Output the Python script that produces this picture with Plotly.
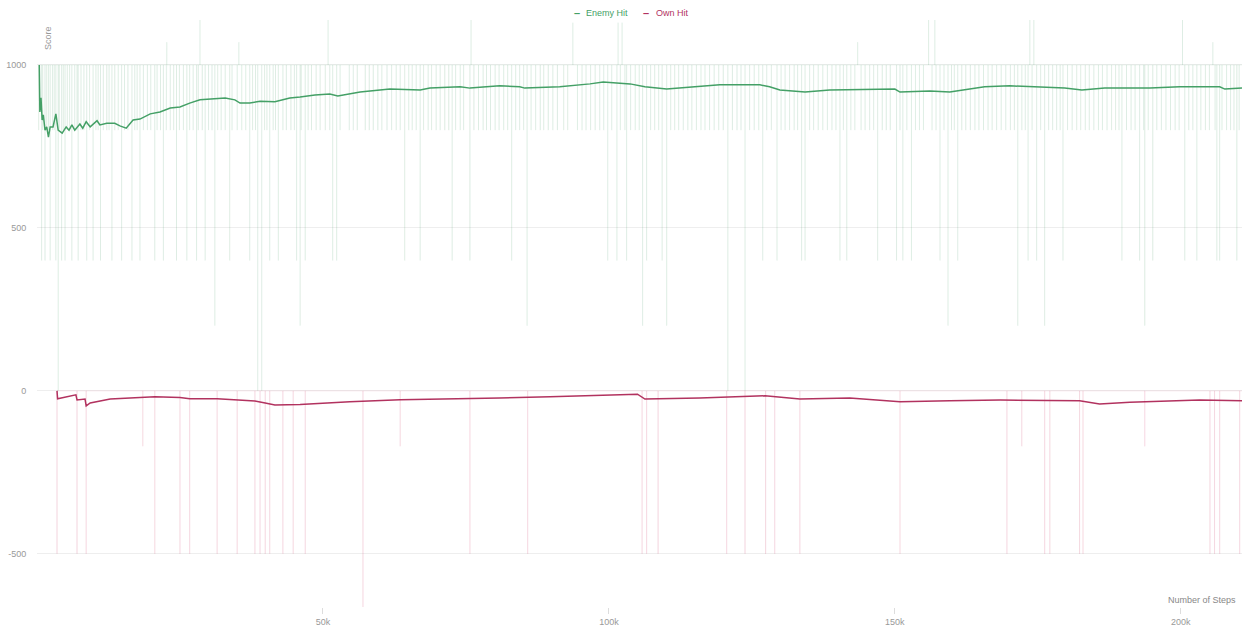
import plotly.graph_objects as go

# ---------------- data (steps in thousands) ----------------
# smoothed Enemy Hit score
enemy_smooth_steps = [0.4, 0.5, 0.7, 0.9, 1.1, 1.4, 1.7, 2.0, 2.3, 2.8, 3.3, 3.7, 4.4, 5.1, 5.6, 6.1, 6.6,
                      7.5, 8.0, 8.6, 9.3, 10.5, 11.0, 12.2, 13.6, 14.5, 15.6, 16.8, 18.0, 19.8, 21.5, 23.3,
                      25.0, 26.7, 28.5, 31.1, 32.9, 34.6, 35.5, 37.2, 39.0, 41.6, 44.2, 46.0, 48.6, 51.2,
                      52.6, 56.5, 61.7, 67.0, 68.7, 74.0, 75.7, 80.9, 84.4, 85.3, 91.4, 96.7, 99.0, 103.7,
                      106.3, 110.1, 115.9, 119.4, 126.4, 128.1, 129.9, 134.3, 138.6, 145.6, 150.0, 150.9,
                      156.1, 159.6, 165.7, 170.1, 173.6, 179.7, 182.7, 186.7, 194.6, 199.8, 206.8, 207.7, 210.7]
enemy_smooth_vals = [1000, 856, 899, 831, 847, 800, 810, 779, 810, 810, 850, 800, 791, 810, 800, 816, 800,
                     819, 806, 826, 810, 829, 816, 821, 821, 813, 806, 831, 834, 850, 856, 868,
                     871, 883, 893, 896, 899, 893, 883, 883, 889, 887, 899, 902, 908, 911,
                     905, 917, 926, 923, 929, 933, 929, 936, 933, 929, 933, 942, 948, 942,
                     933, 926, 933, 939, 939, 933, 923, 917, 923, 926, 926, 917,
                     920, 917, 933, 936, 933, 929, 923, 929, 929, 933, 933, 926, 929]

# smoothed Own Hit score
own_smooth_steps = [3.5, 3.6, 6.8, 7.0, 8.4, 8.6, 9.3, 12.8, 18.0, 20.6, 25.0, 26.7, 31.5, 34.6, 38.1, 39.9,
                    41.6, 46.0, 54.7, 63.5, 72.2, 80.9, 89.7, 98.4, 105.0, 106.3, 115.9, 127.3, 133.4,
                    142.1, 150.9, 159.6, 168.4, 182.3, 185.8, 191.1, 203.3, 210.7]
own_smooth_vals = [0, -24, -12, -28, -25, -46, -37, -25, -20, -18, -20, -24, -24, -28, -31, -37,
                   -43, -42, -33, -27, -25, -22, -18, -13, -10, -25, -22, -15, -25,
                   -22, -33, -30, -28, -30, -40, -35, -28, -30]

# raw Enemy Hit episodes (baseline 1000)
enemy_base = 1000
enemy_dip800_steps = [0.3, 1.0, 1.7, 2.0, 2.7, 3.0, 3.9, 4.6, 5.3, 5.7, 6.6, 7.0, 7.7, 8.2, 9.2, 10.3, 10.7,
                      11.6, 12.2, 12.6, 13.6, 14.2, 15.3, 15.9, 17.1, 17.5, 18.6, 19.3, 19.9, 21.0, 21.6,
                      22.6, 23.3, 23.9, 24.9, 25.6, 26.7, 27.3, 28.2, 28.9, 30.0, 30.6, 31.6, 32.2, 32.9,
                      34.1, 35.0, 35.8, 36.5, 37.7, 38.2, 39.8, 40.2, 41.3, 41.7, 43.0, 43.6, 44.4, 45.0,
                      46.2, 47.4, 48.0, 48.8, 49.5, 50.4, 51.2, 53.0, 54.6, 55.3, 56.0, 57.4, 58.1, 58.8,
                      59.6, 60.3, 61.2, 62.0, 62.8, 63.5, 65.0, 65.6, 66.3, 67.6, 68.4, 69.0, 69.8, 70.5,
                      71.3, 72.0, 73.2, 74.0, 74.6, 76.4, 77.2, 78.0, 78.6, 79.3, 80.1, 80.8, 81.6, 82.3,
                      83.7, 84.4, 85.1, 86.4, 87.2, 88.0, 88.6, 89.4, 90.2, 91.0, 92.1, 92.8, 94.5, 95.3,
                      96.0, 96.8, 97.6, 98.4, 99.1, 100.5, 102.0, 102.8, 103.8, 104.6, 105.3, 107.3, 108.0,
                      108.7, 110.8, 111.5, 112.2, 113.0, 113.8, 114.5, 115.3, 116.1, 116.8, 117.6, 118.4,
                      119.2, 120.0, 121.6, 122.4, 123.1, 124.6, 125.4, 126.2, 127.6, 128.4, 130.1, 130.8,
                      131.6, 132.4, 133.0, 135.1, 135.8, 136.6, 137.4, 138.2, 139.0, 139.7, 141.0, 142.3,
                      143.0, 144.1, 144.8, 145.6, 146.3, 147.8, 148.5, 149.2, 150.9, 152.1, 153.6, 154.3,
                      155.0, 156.5, 157.2, 158.6, 159.9, 160.4, 161.7, 162.4, 163.2, 164.0, 164.7, 165.5,
                      166.3, 167.0, 167.8, 168.6, 169.4, 170.2, 170.9, 172.2, 172.8, 174.0, 175.5, 176.9,
                      177.6, 178.3, 178.9, 180.2, 181.0, 181.8, 182.5, 183.3, 184.0, 184.8, 185.6, 186.3,
                      187.1, 187.9, 188.6, 189.2, 190.5, 191.3, 192.0, 193.5, 194.3, 195.8, 196.6, 197.4,
                      198.2, 199.0, 199.7, 201.4, 202.1, 203.5, 204.3, 205.0, 206.0, 207.2, 208.0, 208.7,
                      209.3, 210.2]
enemy_dip400_steps = [0.8, 1.4, 2.3, 3.3, 4.3, 4.9, 6.1, 7.2, 8.7, 9.8, 11.1, 13.1, 14.8, 16.6, 18.0, 20.6,
                      22.1, 24.4, 26.2, 27.9, 29.4, 33.7, 37.2, 40.7, 42.2, 45.4, 46.9, 51.7, 52.4, 64.3,
                      67.0, 72.6, 75.7, 83.0, 99.8, 101.4, 103.1, 106.6, 109.3, 126.9, 129.4, 133.7, 134.3,
                      140.4, 141.6, 147.0, 150.3, 151.4, 152.9, 157.9, 161.0, 173.3, 174.8, 179.4, 189.7,
                      192.8, 195.1, 200.7, 202.8, 206.3, 206.8, 209.8]
enemy_other_steps = [3.7, 31.1, 38.6, 39.3, 46.0, 85.7, 105.9, 110.1, 120.8, 123.8, 159.3, 171.5, 176.2,
                     193.7, 22.7, 28.5, 35.3, 50.9, 75.9, 93.7, 101.6, 102.3, 143.5, 155.9, 157.0, 173.6,
                     174.3, 200.3, 205.6]
enemy_other_vals = [0, 200, 0, 0, 200, 200, 200, 200, 0, 0, 200, 200, 200,
                    200, 1070, 1140, 1070, 1140, 1140, 1130, 1130, 1130, 1070, 1140, 1140, 1140,
                    1140, 1140, 1070]

# raw Own Hit episodes (baseline 0)
own_base = 0
own_dip_steps = [3.5, 7.0, 8.6, 18.5, 20.6, 25.0, 26.7, 31.5, 35.0, 38.1, 39.0, 39.9, 40.7, 43.0, 44.8,
                 46.9, 57.0, 63.5, 75.7, 85.8, 105.8, 106.6, 108.6, 120.6, 123.8, 127.4, 129.0, 133.4,
                 150.9, 169.6, 172.2, 176.2, 177.1, 182.3, 182.9, 193.7, 205.1, 205.9, 206.8, 210.3]
own_dip_vals = [-500, -500, -500, -170, -500, -500, -500, -500, -500, -500, -500, -500, -500, -500, -500,
                -500, -670, -170, -500, -500, -500, -500, -500, -500, -500, -500, -500, -500,
                -500, -500, -170, -500, -500, -500, -500, -170, -500, -500, -500, -500]

x_tick_vals = [50, 100, 150, 200]
x_tick_text = ["50k", "100k", "150k", "200k"]
y_tick_vals = [-500, 0, 500, 1000]
y_tick_text = ["-500", "0", "500", "1000"]
series_names = ["Enemy Hit", "Own Hit"]

# ---------------- build raw spike series ----------------
def spike_series(base, events, start, end):
    xs, ys = [start * 1000], [base]
    for s, v in sorted(events):
        xs += [s * 1000, s * 1000, s * 1000]
        ys += [base, v, base]
    xs.append(end * 1000)
    ys.append(base)
    return xs, ys

enemy_events = ([(s, 800) for s in enemy_dip800_steps] +
                [(s, 400) for s in enemy_dip400_steps] +
                list(zip(enemy_other_steps, enemy_other_vals)))
own_events = list(zip(own_dip_steps, own_dip_vals))

ex, ey = spike_series(enemy_base, enemy_events, enemy_smooth_steps[0], enemy_smooth_steps[-1])
ox, oy = spike_series(own_base, own_events, own_smooth_steps[0], own_smooth_steps[-1])

GREEN = "#44a066"
CRIMSON = "#b2325f"

fig = go.Figure()
fig.add_trace(go.Scatter(x=ex, y=ey, mode="lines", line=dict(color="rgba(90,170,120,0.10)", width=1),
                         showlegend=False, hoverinfo="skip"))
fig.add_trace(go.Scatter(x=ox, y=oy, mode="lines", line=dict(color="rgba(210,80,120,0.12)", width=1),
                         showlegend=False, hoverinfo="skip"))
fig.add_trace(go.Scatter(x=[s * 1000 for s in enemy_smooth_steps], y=enemy_smooth_vals, mode="lines",
                         line=dict(color=GREEN, width=1.5), name=series_names[0], showlegend=False))
fig.add_trace(go.Scatter(x=[s * 1000 for s in own_smooth_steps], y=own_smooth_vals, mode="lines",
                         line=dict(color=CRIMSON, width=1.5), name=series_names[1], showlegend=False))

W, H = 1242, 631
L, R, T, B = 37, 0, 20, 24
pw, ph = W - L - R, H - T - B

def px(xp):
    return (xp - L) / pw

def py(yp):
    return (H - B - yp) / ph

FONT = "Liberation Sans, Arial, sans-serif"

def note(text, xp, yp, color, size, xanchor="center", angle=0):
    return dict(text=text, x=px(xp), y=py(yp), xref="paper", yref="paper", showarrow=False,
                xanchor=xanchor, yanchor="middle", textangle=angle,
                font=dict(color=color, size=size, family=FONT))

annotations = [
    note("<b>–</b>", 577, 13, GREEN, 11),
    note(series_names[0], 607, 13, GREEN, 9),
    note("<b>–</b>", 646, 13, CRIMSON, 11),
    note(series_names[1], 672, 13, CRIMSON, 9),
    note("Score", 48, 38, "#999999", 9, angle=-90),
    note("Number of Steps", 1238, 600, "#888888", 9, xanchor="right"),
]

fig.update_layout(
    width=W, height=H,
    margin=dict(l=L, r=R, t=T, b=B),
    plot_bgcolor="white", paper_bgcolor="white",
    showlegend=False,
    annotations=annotations,
    font=dict(family=FONT, color="#999999", size=9),
    xaxis=dict(range=[0, 210700], tickvals=[v * 1000 for v in x_tick_vals], ticktext=x_tick_text,
               showgrid=False, zeroline=False, showline=False, ticks="outside", ticklen=6,
               tickcolor="#dddddd", tickfont=dict(size=9, color="#999999")),
    yaxis=dict(range=[-663, 1138], tickvals=y_tick_vals, ticktext=y_tick_text,
               showgrid=True, gridcolor="#eeeeee", gridwidth=1, zeroline=False, showline=False,
               ticks="outside", ticklen=8, tickcolor="rgba(0,0,0,0)", tickfont=dict(size=9, color="#999999")),
)

fig.write_html("out.html", config={"displayModeBar": False},
               post_script="document.body.style.margin='0px';")
